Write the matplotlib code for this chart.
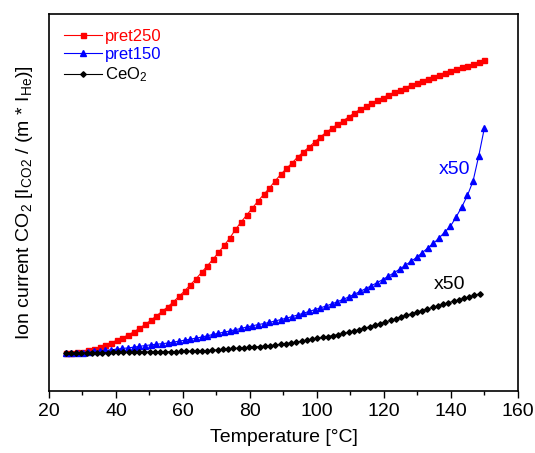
import numpy as np
import matplotlib.pyplot as plt

plt.rcParams['font.family'] = ['Liberation Sans', 'DejaVu Sans']
plt.rcParams['mathtext.default'] = 'regular'

# temperature grids (°C)
temp_red = np.linspace(25, 150, 75)
temp_blue = np.linspace(25, 150, 75)
temp_black = np.linspace(25, 148.6, 80)

# ion current, arbitrary units
pret250 = [38.3, 38.3, 38.7, 39.3, 41.0, 42.3, 44.0, 46.3, 48.3, 50.5,
           53.0, 56.0, 59.0, 62.5, 66.5, 70.5, 75.0, 79.5, 84.0, 89.0,
           94.5, 100.0, 106.0, 112.0, 118.5, 125.0, 131.5, 138.5, 145.5, 153.0,
           161.5, 169.0, 176.0, 183.0, 190.0, 196.5, 203.0, 210.0, 216.5, 222.5,
           228.0, 234.0, 239.0, 244.0, 249.0, 254.0, 258.5, 262.5, 266.5, 270.0,
           274.0, 278.0, 281.5, 284.5, 287.5, 290.5, 293.0, 296.0, 298.5, 301.0,
           303.3, 305.7, 308.0, 310.3, 312.3, 314.3, 316.3, 318.3, 320.3, 322.0,
           323.5, 325.0, 326.7, 328.5, 331.0]

pret150 = [37.7, 37.9, 38.1, 38.3, 38.9, 39.5, 40.0, 40.6, 41.2, 41.8,
           42.5, 43.1, 43.8, 44.6, 45.4, 46.1, 46.7, 47.3, 47.9, 48.9,
           49.8, 50.8, 51.8, 52.8, 53.9, 55.2, 56.5, 57.7, 58.9, 60.0,
           61.3, 62.6, 64.0, 65.2, 66.4, 67.4, 68.6, 70.0, 71.4, 72.8,
           74.4, 76.0, 77.8, 79.5, 81.3, 83.1, 85.0, 87.0, 89.2, 91.6,
           94.0, 96.7, 99.5, 102.3, 105.2, 108.2, 111.3, 114.7, 118.2, 121.7,
           125.6, 129.5, 133.5, 138.2, 143.0, 147.7, 153.0, 159.0, 164.7, 174.0,
           184.0, 195.5, 210.0, 235.0, 263.0]

ceo2 = [37.7, 37.8, 37.9, 38.0, 38.1, 38.1, 38.2, 38.3, 38.4, 38.5,
        38.5, 38.6, 38.7, 38.8, 38.8, 38.9, 39.0, 39.1, 39.2, 39.2,
        39.3, 39.4, 39.5, 39.6, 39.8, 39.9, 40.1, 40.4, 40.8, 41.1,
        41.6, 42.0, 42.5, 42.8, 43.1, 43.5, 43.9, 44.4, 44.9, 45.4,
        46.0, 46.7, 47.4, 48.1, 48.9, 49.7, 50.7, 51.6, 52.6, 53.5,
        54.4, 55.4, 56.4, 57.5, 58.6, 59.9, 61.3, 62.8, 64.2, 65.8,
        67.4, 68.9, 70.7, 72.4, 74.1, 75.7, 77.3, 78.8, 80.4, 82.0,
        83.5, 85.1, 86.6, 88.2, 89.7, 91.1, 92.5, 93.9, 95.6, 97.3]

fig = plt.figure(figsize=(5.35, 4.53), dpi=100)
ax = fig.add_axes([0.0916, 0.1369, 0.8764, 0.8322])

ax.plot(temp_red, pret250, color='#ff0000', marker='s', ms=3.6, lw=0.8,
        label='pret250')
ax.plot(temp_blue, pret150, color='#0000ff', marker='^', ms=3.8, lw=0.8,
        label='pret150')
ax.plot(temp_black, ceo2, color='black', marker='D', ms=2.8, lw=0.8,
        label='CeO$_2$')

ax.text(141.2, 221, 'x50', color='#0000ff', fontsize=14, ha='center', va='center')
ax.text(139.7, 106, 'x50', color='black', fontsize=14, ha='center', va='center')

ax.set_xlim(20, 160)
ax.set_ylim(0, 377)
ax.set_xticks(np.arange(20, 161, 20))
ax.set_xticks(np.arange(30, 160, 20), minor=True)
ax.set_yticks([])
ax.tick_params(axis='x', which='major', direction='out', length=5, width=1,
               labelsize=14, pad=4)
ax.tick_params(axis='x', which='minor', direction='out', length=3, width=1)
for s in ax.spines.values():
    s.set_linewidth(1.2)

ax.set_xlabel('Temperature [°C]', fontsize=14, labelpad=6)
ax.set_ylabel('Ion current CO$_2$ [I$_{CO2}$ / (m * I$_{He}$)]', fontsize=14,
              labelpad=10)

leg = ax.legend(loc='upper left', frameon=False, fontsize=12, handlelength=2.3,
                handletextpad=0.15, labelspacing=0.2, borderaxespad=0.5,
                bbox_to_anchor=(0.0, 1.0))
for txt, c in zip(leg.get_texts(), ['#ff0000', '#0000ff', 'black']):
    txt.set_color(c)

fig.savefig('out.png', dpi=100)
